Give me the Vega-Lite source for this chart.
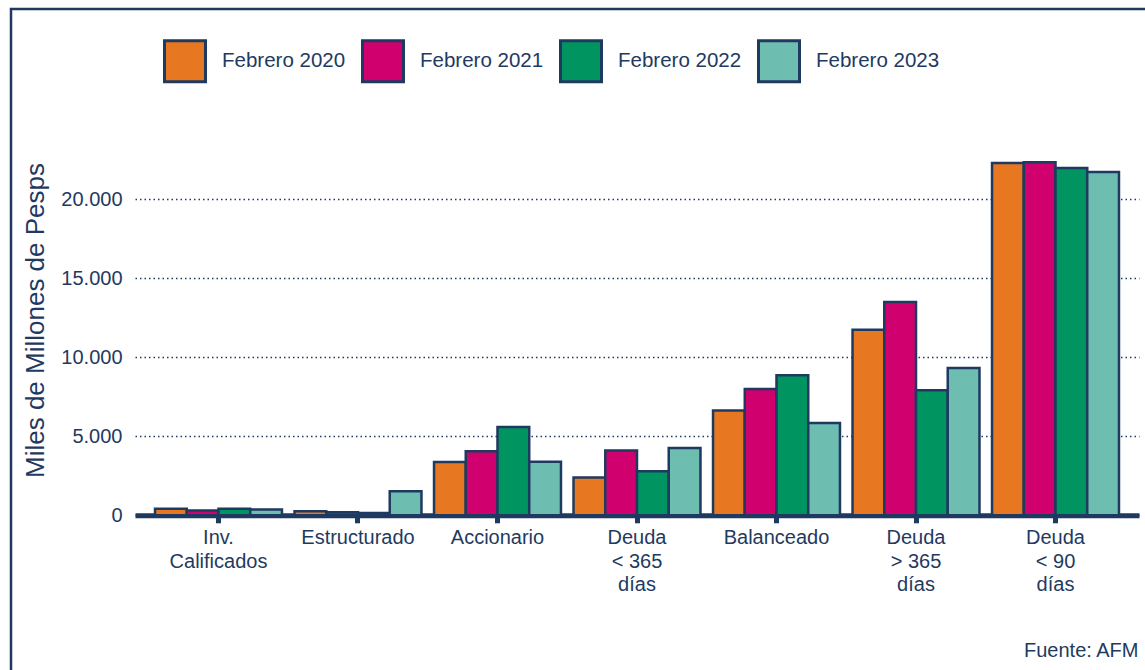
{
  "$schema": "https://vega.github.io/schema/vega-lite/v6.json",
  "width": 1140,
  "height": 663,
  "autosize": {"type": "none"},
  "padding": {"left": 11, "top": 9, "right": 0, "bottom": 0},
  "background": "white",
  "config": {
    "view": {"stroke": "#1f3a60", "strokeWidth": 2.5},
    "font": "Liberation Sans"
  },
  "data": {
    "values": [
      {"cat": "Inv.|Calificados", "serie": "Febrero 2020", "val": 410},
      {"cat": "Inv.|Calificados", "serie": "Febrero 2021", "val": 300},
      {"cat": "Inv.|Calificados", "serie": "Febrero 2022", "val": 420},
      {"cat": "Inv.|Calificados", "serie": "Febrero 2023", "val": 360},
      {"cat": "Estructurado", "serie": "Febrero 2020", "val": 250},
      {"cat": "Estructurado", "serie": "Febrero 2021", "val": 200},
      {"cat": "Estructurado", "serie": "Febrero 2022", "val": 140},
      {"cat": "Estructurado", "serie": "Febrero 2023", "val": 1520},
      {"cat": "Accionario", "serie": "Febrero 2020", "val": 3380},
      {"cat": "Accionario", "serie": "Febrero 2021", "val": 4050},
      {"cat": "Accionario", "serie": "Febrero 2022", "val": 5590},
      {"cat": "Accionario", "serie": "Febrero 2023", "val": 3390},
      {"cat": "Deuda|< 365|días", "serie": "Febrero 2020", "val": 2400},
      {"cat": "Deuda|< 365|días", "serie": "Febrero 2021", "val": 4100},
      {"cat": "Deuda|< 365|días", "serie": "Febrero 2022", "val": 2790},
      {"cat": "Deuda|< 365|días", "serie": "Febrero 2023", "val": 4260},
      {"cat": "Balanceado", "serie": "Febrero 2020", "val": 6630},
      {"cat": "Balanceado", "serie": "Febrero 2021", "val": 8000},
      {"cat": "Balanceado", "serie": "Febrero 2022", "val": 8860},
      {"cat": "Balanceado", "serie": "Febrero 2023", "val": 5840},
      {"cat": "Deuda|> 365|días", "serie": "Febrero 2020", "val": 11750},
      {"cat": "Deuda|> 365|días", "serie": "Febrero 2021", "val": 13500},
      {"cat": "Deuda|> 365|días", "serie": "Febrero 2022", "val": 7910},
      {"cat": "Deuda|> 365|días", "serie": "Febrero 2023", "val": 9320},
      {"cat": "Deuda|< 90|días", "serie": "Febrero 2020", "val": 22300},
      {"cat": "Deuda|< 90|días", "serie": "Febrero 2021", "val": 22340},
      {"cat": "Deuda|< 90|días", "serie": "Febrero 2022", "val": 21980},
      {"cat": "Deuda|< 90|días", "serie": "Febrero 2023", "val": 21730}
    ]
  },
  "mark": {"type": "bar", "stroke": "#1f3a60", "strokeWidth": 2.5, "strokeJoin": "miter"},
  "encoding": {
    "x": {
      "field": "cat",
      "type": "nominal",
      "sort": ["Inv.|Calificados", "Estructurado", "Accionario", "Deuda|< 365|días", "Balanceado", "Deuda|> 365|días", "Deuda|< 90|días"],
      "scale": {"range": [124, 1128], "paddingInner": 0.09, "paddingOuter": 0.1435},
      "axis": {
        "orient": "bottom",
        "offset": -156.7,
        "title": "Fuente: AFM",
        "titleFont": "Liberation Sans",
        "titleFontSize": 20,
        "titleFontWeight": "normal",
        "titleColor": "#1f3a60",
        "titleAnchor": null,
        "titleAlign": "right",
        "titleBaseline": "alphabetic",
        "titleX": 1127,
        "titleY": 140.7,
        "labelExpr": "split(datum.label, '|')",
        "labelAngle": 0,
        "labelFont": "Liberation Sans",
        "labelFontSize": 20,
        "labelColor": "#1f3a60",
        "labelLineHeight": 23.5,
        "labelPadding": 5,
        "labelBaseline": "top",
        "domainColor": "#1f3a60",
        "domainWidth": 5,
        "tickColor": "#1f3a60",
        "tickWidth": 5,
        "tickSize": 7.5,
        "grid": false
      }
    },
    "xOffset": {
      "field": "serie",
      "type": "nominal",
      "scale": {"paddingInner": 0, "paddingOuter": 0}
    },
    "y": {
      "field": "val",
      "type": "quantitative",
      "scale": {"domain": [0, 25000], "range": [506.3, 111.3], "nice": false, "zero": true},
      "axis": {
        "offset": -124,
        "values": [0, 5000, 10000, 15000, 20000],
        "labelExpr": "replace(format(datum.value, ','), ',', '.')",
        "labelFont": "Liberation Sans",
        "labelFontSize": 20,
        "labelColor": "#1f3a60",
        "labelPadding": 13,
        "ticks": false,
        "domain": false,
        "grid": true,
        "gridColor": "#1f3a60",
        "gridDash": [1.5, 3],
        "gridWidth": 1.3,
        "title": "Miles de Millones de Pesps",
        "titleFont": "Liberation Sans",
        "titleFontSize": 26,
        "titleFontWeight": "normal",
        "titleColor": "#1f3a60",
        "titleAngle": 270,
        "titleAlign": "center",
        "titleBaseline": "alphabetic",
        "titleX": -92,
        "titleY": 311
      }
    },
    "color": {
      "field": "serie",
      "type": "nominal",
      "scale": {
        "domain": ["Febrero 2020", "Febrero 2021", "Febrero 2022", "Febrero 2023"],
        "range": ["#e87722", "#d1006f", "#009460", "#6dbdb0"]
      },
      "legend": {
        "orient": "none",
        "direction": "horizontal",
        "legendX": 152,
        "legendY": 30,
        "title": null,
        "padding": 0,
        "symbolType": "square",
        "symbolSize": 1681,
        "symbolStrokeColor": "#1f3a60",
        "symbolStrokeWidth": 3,
        "symbolOpacity": 1,
        "labelFont": "Liberation Sans",
        "labelFontSize": 20.5,
        "labelColor": "#1f3a60",
        "labelOffset": 15,
        "columnPadding": 10,
        "labelLimit": 300
      }
    }
  }
}
